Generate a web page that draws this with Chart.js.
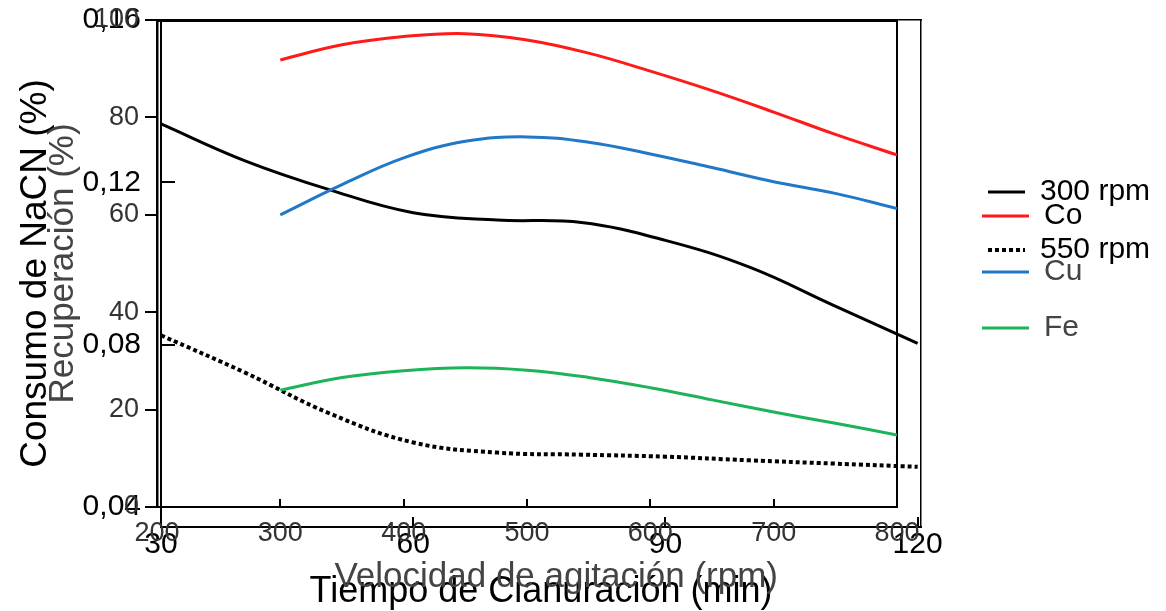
<!DOCTYPE html>
<html>
<head>
<meta charset="utf-8">
<script src="https://cdn.jsdelivr.net/npm/chart.js@4.4.1/dist/chart.umd.min.js"></script>
<style>
  html, body { margin: 0; padding: 0; background: #fff; }
  #wrap { position: relative; width: 1166px; height: 611px; }
  #wrap canvas { position: absolute; left: 0; top: 0; }
</style>
</head>
<body>
<div id="wrap">
  <canvas id="timeChart" width="1166" height="611"></canvas>
  <canvas id="speedChart" width="1166" height="611"></canvas>
</div>
<script>
// Recuperación vs velocidad de agitación
const speedRpm = [300, 350, 400, 450, 500, 550, 600, 650, 700, 750, 800];
const recCo = [91.8, 94.9, 96.6, 97.2, 95.9, 93.2, 89.5, 85.5, 81.1, 76.5, 72.3];
const recCu = [60.0, 66.2, 71.7, 75.1, 76.0, 74.9, 72.5, 69.7, 66.8, 64.4, 61.3];
const recFe = [24.0, 26.6, 28.0, 28.6, 28.1, 26.6, 24.5, 22.0, 19.5, 17.2, 14.8];
const rpmTicks = [200, 300, 400, 500, 600, 700, 800];
const recTicks = [0, 20, 40, 60, 80, 100];

// Consumo de NaCN vs tiempo de cianuración
const timeMin = [30, 40, 50, 60, 70, 80, 90, 100, 110, 120];
const nacn300 = [0.1344, 0.1253, 0.1182, 0.1125, 0.1107, 0.1101, 0.1057, 0.0991, 0.0897, 0.0803];
const nacn550 = [0.0823, 0.0731, 0.0631, 0.0559, 0.0534, 0.0529, 0.0524, 0.0515, 0.0507, 0.0499];
const timeTicks = [30, 60, 90, 120];
const nacnTicks = [0.04, 0.08, 0.12, 0.16];

Chart.defaults.font.family = "'Liberation Sans', Arial, sans-serif";
Chart.defaults.color = '#000';

function pairs(xs, ys) {
    return xs.map((x, i) => ({ x: x, y: ys[i] }));
}

function fixedTicks(values) {
    return scale => { scale.ticks = values.map(v => ({ value: v })); };
}

// fija el tamaño del eje y quita el relleno que agrega Chart.js por las etiquetas
function fixSize(prop, size) {
    return scale => {
        scale[prop] = size;
        scale.paddingTop = scale.paddingBottom = scale.paddingLeft = scale.paddingRight = 0;
    };
}

// eje solo como marco (linea superior / derecha)
function frameAxis(position, size, width) {
    return {
        type: 'linear',
        position: position,
        ticks: { display: false },
        grid: { display: false },
        border: { display: true, color: '#000', width: width },
        afterFit: fixSize(position === 'top' ? 'height' : 'width', size)
    };
}

// Grafico de fondo: consumo de NaCN
new Chart(document.getElementById('timeChart'), {
    type: 'line',
    data: {
        datasets: [{
            label: '300 rpm',
            data: pairs(timeMin, nacn300),
            borderColor: '#000',
            backgroundColor: 'transparent',
            borderWidth: 3,
            pointRadius: 0,
            tension: 0.4
        }, {
            label: '550 rpm',
            data: pairs(timeMin, nacn550),
            borderColor: '#000',
            backgroundColor: 'transparent',
            borderWidth: 4,
            borderDash: [4, 3],
            pointRadius: 0,
            tension: 0.4
        }]
    },
    options: {
        responsive: false,
        animation: false,
        layout: { padding: { top: 20, right: 9, bottom: 0, left: 0 } },
        plugins: {
            tooltip: { enabled: false },
            legend: {
                position: 'right',
                align: 'start',
                maxWidth: 197,
                title: { display: true, text: '', font: { size: 10, lineHeight: 1 }, padding: { top: 119, bottom: 0 } },
                labels: {
                    boxWidth: 37,
                    boxHeight: 0,
                    padding: 28,
                    color: '#000',
                    font: { size: 30 }
                }
            }
        },
        scales: {
            x: {
                type: 'linear',
                position: 'bottom',
                min: 30,
                max: 120.4,
                afterBuildTicks: fixedTicks(timeTicks),
                afterFit: fixSize('height', 84),
                grid: { drawOnChartArea: false, tickLength: -10, color: '#000', lineWidth: 2 },
                border: { color: '#000', width: 2 },
                ticks: { padding: 10, color: '#000', font: { size: 30 } },
                title: {
                    display: true,
                    text: 'Tiempo de Cianuración (min)',
                    color: '#000',
                    font: { size: 36, lineHeight: 1 },
                    padding: { top: 0, bottom: 1 }
                }
            },
            y: {
                type: 'linear',
                position: 'left',
                min: 0.03507,
                max: 0.16,
                afterBuildTicks: fixedTicks(nacnTicks),
                afterFit: fixSize('width', 161),
                grid: { drawOnChartArea: false, tickLength: -14, color: '#000', lineWidth: 2 },
                border: { color: '#000', width: 2 },
                ticks: {
                    padding: 34,
                    color: '#000',
                    font: { size: 30 },
                    callback: v => v.toFixed(2).replace('.', ',')
                },
                title: {
                    display: true,
                    text: 'Consumo de NaCN (%)',
                    color: '#000',
                    font: { size: 37, lineHeight: 1.2 },
                    padding: { top: 14, bottom: 0 }
                }
            },
            xTop: frameAxis('top', 0, 1.5),
            yR: frameAxis('right', 39, 1.5)
        }
    }
});

// Grafico del frente: recuperacion
new Chart(document.getElementById('speedChart'), {
    type: 'line',
    data: {
        datasets: [{
            label: 'Co',
            data: pairs(speedRpm, recCo),
            borderColor: '#ff1a1a',
            backgroundColor: 'transparent',
            borderWidth: 3,
            pointRadius: 0,
            tension: 0.4
        }, {
            label: 'Cu',
            data: pairs(speedRpm, recCu),
            borderColor: '#1f78c8',
            backgroundColor: 'transparent',
            borderWidth: 3,
            pointRadius: 0,
            tension: 0.4
        }, {
            label: 'Fe',
            data: pairs(speedRpm, recFe),
            borderColor: '#1db35a',
            backgroundColor: 'transparent',
            borderWidth: 3,
            pointRadius: 0,
            tension: 0.4
        }]
    },
    options: {
        responsive: false,
        animation: false,
        layout: { padding: { top: 20, right: 79, bottom: 0, left: 0 } },
        plugins: {
            tooltip: { enabled: false },
            legend: {
                position: 'right',
                align: 'start',
                maxWidth: 131,
                title: { display: true, text: '', font: { size: 10, lineHeight: 1 }, padding: { top: 145, bottom: 0 } },
                labels: {
                    boxWidth: 47,
                    boxHeight: 0,
                    padding: 26,
                    color: '#444',
                    font: { size: 30 },
                    generateLabels: chart => Chart.defaults.plugins.legend.labels.generateLabels(chart)
                        .map(item => Object.assign(item, { fontColor: item.text === 'Co' ? '#000' : '#444' }))
                }
            }
        },
        scales: {
            x: {
                type: 'linear',
                position: 'bottom',
                min: 200,
                max: 800,
                afterBuildTicks: fixedTicks(rpmTicks),
                afterFit: fixSize('height', 104),
                grid: { drawOnChartArea: false, tickLength: -8, color: '#000', lineWidth: 2 },
                border: { color: '#000', width: 2 },
                ticks: { padding: 18, color: '#333', font: { size: 27 } },
                title: {
                    display: true,
                    text: '      Velocidad de agitación (rpm)',
                    color: '#444',
                    font: { size: 35, lineHeight: 1.2 },
                    padding: { top: 0, bottom: 13 }
                }
            },
            y: {
                type: 'linear',
                position: 'left',
                min: 0,
                max: 100,
                afterBuildTicks: fixedTicks(recTicks),
                afterFit: fixSize('width', 157),
                grid: { drawOnChartArea: false, tickLength: 12, color: '#000', lineWidth: 2 },
                border: { color: '#000', width: 2.5 },
                ticks: { padding: 6, color: '#333', font: { size: 27 } },
                title: {
                    display: true,
                    text: 'Recuperación (%)',
                    color: '#444',
                    font: { size: 35, lineHeight: 1.2 },
                    padding: { top: 42, bottom: 0 }
                }
            },
            xTop: frameAxis('top', 0, 3),
            yR: frameAxis('right', 59, 2)
        }
    }
});
</script>
</body>
</html>
